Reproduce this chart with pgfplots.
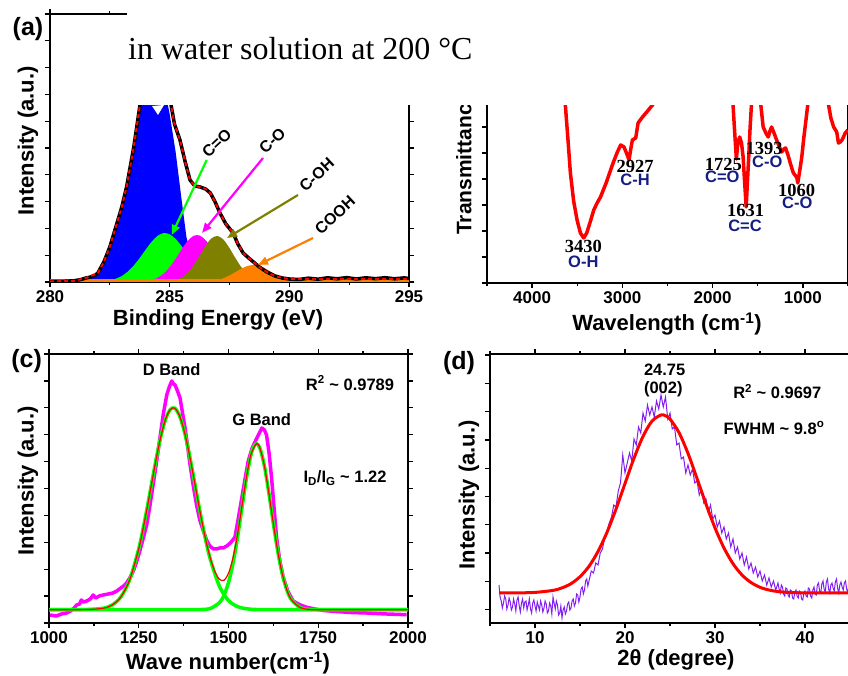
\documentclass[border=0pt]{standalone}
\usepackage{fontspec}
\setmainfont{Liberation Sans}
\newfontfamily\tnr{Liberation Serif}
\usepackage{pgfplots}
\pgfplotsset{compat=1.18}
\usetikzlibrary{arrows.meta}
\newcommand\fs[1]{\fontsize{#1}{#1}\selectfont}
\definecolor{olv}{RGB}{128,128,0}
\definecolor{org}{RGB}{255,128,0}
\definecolor{nvy}{RGB}{20,30,130}
\definecolor{vio}{RGB}{130,30,240}
\definecolor{grn}{RGB}{0,255,0}
\definecolor{mag}{RGB}{255,0,255}
\pgfplotsset{
  panel/.style={
    scale only axis, anchor=south west,
    axis line style={line width=2pt},
    tick align=outside, major tick length=5pt, minor tick length=3pt,
    every tick/.style={black, line width=1.3pt},
    yticklabels={},
    xticklabel style={font=\fs{17}\bfseries},
    /pgf/number format/assume math mode=true,
    /pgf/number format/1000 sep={},
  },
}
\begin{document}
\begin{tikzpicture}[x=1pt,y=1pt]

% ---------- (a) XPS C1s ----------
\begin{axis}[panel, at={(50pt,394pt)}, width=359pt, height=268pt,
    xmin=280, xmax=295, ymin=0, ymax=268,
    xtick={280,285,290,295}, minor xtick={282.5,287.5,292.5},
    ytick={0,26.8,...,268}]
  % C-C (blue)
  \addplot[fill=blue, draw=none] coordinates {
    (280,0) (281.0,1) (281.5,3) (281.8,5) (282.0,8.5) (282.25,19) (282.5,34) (282.75,54)
    (283.0,74) (283.2,94) (283.5,134) (283.76,176) (284.0,209) (284.3,240) (284.5,245)
    (284.7,225) (284.9,180) (285.0,168) (285.25,130) (285.5,82) (285.7,45) (286.0,15)
    (286.3,4) (286.6,1) (287,0)} \closedcycle;
  % C=O (green)
  \addplot[fill=grn, draw=none, smooth] coordinates {
    (282.0,0.3) (282.5,1.6) (282.75,3.3) (283.0,6.0) (283.25,10.4) (283.5,16.5) (283.75,24.0)
    (284.0,32.4) (284.25,40.3) (284.5,46.2) (284.75,48.9) (285.0,47.7) (285.25,43.0)
    (285.5,35.7) (285.75,27.4) (286.0,19.3) (286.25,12.6) (286.5,7.6) (286.75,4.2)
    (287.0,2.2) (287.5,0.4) (288,0)} \closedcycle;
  % C-O (magenta)
  \addplot[fill=mag, draw=none, smooth] coordinates {
    (283.5,0.1) (284.0,0.8) (284.25,2.0) (284.5,4.3) (284.75,8.4) (285.0,14.8) (285.25,23.2)
    (285.5,32.7) (285.75,41.0) (286.0,46.2) (286.25,46.5) (286.5,41.9) (286.75,33.8)
    (287.0,24.4) (287.25,15.7) (287.5,9.1) (287.75,4.7) (288.0,2.2) (288.25,0.9)
    (288.5,0.3) (289,0)} \closedcycle;
  % C-OH (olive)
  \addplot[fill=olv, draw=none, smooth] coordinates {
    (284.5,0.1) (285.0,0.7) (285.25,1.9) (285.5,4.4) (285.75,9.2) (286.0,16.6) (286.25,26.3)
    (286.5,36.2) (286.75,43.7) (287.0,46.0) (287.25,42.3) (287.5,33.9) (287.75,23.8)
    (288.0,14.6) (288.25,7.8) (288.5,3.7) (288.75,1.5) (289.0,0.5) (289.5,0)} \closedcycle;
  % COOH (orange)
  \addplot[fill=org, draw=none, smooth] coordinates {
    (286.0,0.1) (286.5,0.4) (286.75,0.9) (287.0,1.9) (287.25,3.8) (287.5,6.5) (287.75,9.9)
    (288.0,13.4) (288.25,16.0) (288.5,17.0) (288.75,16.0) (289.0,13.4) (289.25,9.9)
    (289.5,6.5) (289.75,3.8) (290.0,1.9) (290.25,0.9) (290.5,0.4) (291,0)} \closedcycle;
  \addplot[org, line width=3pt] coordinates {(280,1.5) (295,1.5)};
  % measured envelope
  \addplot[black, line width=3.5pt, line join=round] coordinates {
    (280.0,0.5) (280.5,0.6) (281.0,1.2) (281.3,2.5) (281.5,4) (281.7,5) (281.9,7) (282.0,9)
    (282.25,20) (282.5,35) (282.75,55) (283.0,75) (283.2,95) (283.5,135) (283.76,177)
    (284.0,212) (284.3,245) (284.6,250) (284.85,215) (285.05,178) (285.2,158) (285.43,142)
    (285.65,120) (285.85,102) (286.05,96) (286.27,95) (286.5,93) (286.7,89) (286.9,80)
    (287.1,69) (287.35,58) (287.65,49) (287.85,38) (288.07,29) (288.3,24) (288.5,20)
    (288.75,15) (289.06,10) (289.4,6) (289.7,4) (290.0,3) (290.4,2.5) (290.8,3.8)
    (291.2,2.8) (291.6,4.2) (292.0,3.2) (292.4,4.4) (292.8,3) (293.2,4.2) (293.6,3.3)
    (294.0,4.3) (294.4,3.2) (294.8,4.1) (295,3.5)};
  % fitted envelope
  \addplot[red, line width=2pt, dash pattern=on 4pt off 3pt] coordinates {
    (280.0,0.5) (281.0,1.2) (281.5,4) (282.0,9) (282.25,20) (282.5,35) (282.75,55)
    (283.0,75) (283.2,95) (283.5,135) (283.76,177) (284.0,212) (284.3,245) (284.6,250)
    (284.85,215) (285.05,178) (285.2,158) (285.43,142) (285.65,120) (285.85,102)
    (286.05,96) (286.27,95) (286.5,93) (286.7,89) (286.9,80) (287.1,69) (287.35,58)
    (287.65,49) (287.85,38) (288.07,29) (288.3,24) (288.5,20) (288.75,15) (289.06,10)
    (289.4,6) (289.7,4) (290.0,3) (295,3)};
\end{axis}
\fill[white] (152,570) -- (158,561) -- (164,571) -- cycle;
\draw[grn, line width=2.2pt, -{Triangle[length=10pt,width=8pt]}] (206.7,516) -- (171.7,441);
\draw[mag, line width=2.2pt, -{Triangle[length=10pt,width=8pt]}] (263,518) -- (202,443);
\draw[olv, line width=2.2pt, -{Triangle[length=10pt,width=8pt]}] (298,481) -- (227,438);
\draw[org, line width=2.2pt, -{Triangle[length=10pt,width=8pt]}] (313,438) -- (258,411);
\begin{scope}[every node/.style={rotate=43, font=\fs{16}\bfseries, inner sep=0pt}]
  \node at (216.7,532.7) {C=O};
  \node at (272.3,535.3) {C-O};
  \node at (316.7,501) {C-OH};
  \node at (335,461) {COOH};
\end{scope}

% ---------- (b) FTIR ----------
\begin{axis}[panel, at={(487pt,393pt)}, width=361pt, height=269pt,
    x dir=reverse, xmin=500, xmax=4500, ymin=0, ymax=269,
    xtick={1000,2000,3000,4000}, minor xtick={500,1500,2500,3500,4500},
    ytick={0,26,...,260}]
  \addplot[red, line width=3.5pt, line join=round] coordinates {
    (3660,215) (3632,178) (3600,140) (3576,110) (3540,82) (3502,63) (3465,50) (3428,45)
    (3395,50) (3360,60) (3317,73) (3280,80) (3242,86) (3180,100) (3111,118) (3060,130)
    (3019,138) (2982,136) (2955,130) (2926,123) (2905,135) (2889,143) (2852,145)
    (2826,160) (2777,166) (2720,172) (2666,178) (2620,200) (1800,200) (1774,178)
    (1755,150) (1737,124) (1720,140) (1700,146) (1680,140) (1662,126) (1645,100)
    (1628,76) (1615,100) (1600,126) (1585,155) (1570,178) (1555,200) (1480,200)
    (1466,178) (1440,156) (1410,150) (1384,146) (1365,152) (1347,156) (1320,150)
    (1291,143) (1260,136) (1235,131) (1210,134) (1191,135) (1165,128) (1143,121)
    (1120,114) (1105,110) (1080,107) (1068,106) (1057,100) (1035,112) (1012,126)
    (990,145) (975,156) (946,178) (930,200) (730,200) (715,178) (690,165) (659,156)
    (625,151) (606,140) (585,141) (566,143) (530,150) (502,153)};
\end{axis}
\begin{scope}[every node/.style={inner sep=0pt}]
  \node[font=\tnr\fs{18.5}\bfseries] at (583.3,429.3) {3430};
  \node[font=\fs{16.5}\bfseries, text=nvy] at (583.3,414.3) {O-H};
  \node[font=\tnr\fs{18.5}\bfseries] at (635,510) {2927};
  \node[font=\fs{16.5}\bfseries, text=nvy] at (635,496) {C-H};
  \node[font=\tnr\fs{18.5}\bfseries] at (723.3,512) {1725};
  \node[font=\fs{16.5}\bfseries, text=nvy] at (722.3,499.3) {C=O};
  \node[font=\tnr\fs{18.5}\bfseries] at (764,527.7) {1393};
  \node[font=\fs{16.5}\bfseries, text=nvy] at (767.3,514.3) {C-O};
  \node[font=\tnr\fs{18.5}\bfseries] at (745.7,465.3) {1631};
  \node[font=\fs{16.5}\bfseries, text=nvy] at (745,450) {C=C};
  \node[font=\tnr\fs{18.5}\bfseries] at (796.7,485.3) {1060};
  \node[font=\fs{16.5}\bfseries, text=nvy] at (797.3,472.7) {C-O};
\end{scope}

% ---------- (c) Raman ----------
\begin{axis}[panel, at={(49pt,53pt)}, width=359pt, height=269pt,
    xmin=1000, xmax=2000, ymin=0, ymax=269,
    xtick={1000,1250,1500,1750,2000}, minor xtick={1125,1375,1625,1875},
    ytick={0,26.9,...,269}]
  \addplot[mag, line width=3.5pt, line join=round] coordinates {
    (1003,8) (1020,7) (1035,9) (1049,10) (1060,12) (1070,15) (1077,18) (1085,19) (1090,23)
    (1096,21) (1105,22) (1115,24) (1123,28) (1130,25) (1140,27) (1151,28) (1165,29)
    (1178,30) (1189,32) (1200,35) (1208,37) (1216,40) (1225,45) (1235,52) (1244,61)
    (1253,72) (1262,84) (1272,98) (1281,117) (1290,138) (1300,162) (1309,185) (1318,208)
    (1328,228) (1335,236) (1342,242) (1347,239) (1351,238) (1358,232) (1365,225)
    (1372,210) (1379,195) (1386,177) (1393,158) (1402,137) (1411,118) (1420,103)
    (1430,92) (1439,83) (1448,77) (1458,74) (1467,74) (1475,75) (1485,75) (1495,77)
    (1505,80) (1512,83) (1518,86) (1527,104) (1537,125) (1546,144) (1555,162) (1566,175)
    (1579,185) (1586,190) (1593,195) (1600,193) (1606,188) (1613,170) (1620,145)
    (1627,115) (1634,85) (1643,62) (1653,45) (1665,32) (1680,22) (1700,18) (1718,15.7)
    (1740,14) (1765,12.5) (1792,11.7) (1840,10.5) (1885,10) (1940,9) (1996,8.3)};
  \addplot[grn, line width=3.5pt, smooth] coordinates {
    (1000,13.3) (1100,13.4) (1150,14.7) (1175,17.8) (1200,25.9) (1225,43.4) (1250,74.2)
    (1262.5,94.9) (1275,118.1) (1287.5,142.7) (1300,166.7) (1312.5,187.9) (1325,204.0)
    (1337.5,213.4) (1350,214.9) (1362.5,208.2) (1375,194.4) (1387.5,174.8) (1400,151.5)
    (1412.5,127.0) (1425,103.0) (1437.5,81.3) (1450,62.8) (1475,36.5) (1500,22.5)
    (1525,16.4) (1550,14.2) (1575,13.5) (1600,13.3) (2000,13.3)};
  \addplot[grn, line width=3.5pt, smooth] coordinates {
    (1000,13.3) (1400,13.3) (1425,13.5) (1450,14.6) (1475,20.4) (1487.5,27.8) (1500,40.5)
    (1512.5,59.6) (1525,85.3) (1537.5,115.2) (1550,144.8) (1562.5,167.9) (1570,176.1)
    (1578,179.3) (1587.5,174.9) (1600,157.1) (1612.5,129.8) (1625,99.3) (1637.5,71.2)
    (1650,48.8) (1662.5,33.1) (1675,23.4) (1700,15.3) (1725,13.6) (1750,13.3) (2000,13.3)};
  \addplot[red, line width=1.2pt, smooth] coordinates {
    (1000,13.3) (1100,13.4) (1150,14.7) (1175,17.8) (1200,25.9) (1225,43.4) (1250,74.2)
    (1262.5,94.9) (1275,118.1) (1287.5,142.7) (1300,166.7) (1312.5,187.9) (1325,204.0)
    (1337.5,213.4) (1350,214.9) (1362.5,208.2) (1375,194.4) (1387.5,174.8) (1400,151.5)
    (1412.5,127.0) (1425,103.2) (1437.5,81.8) (1450,64.1) (1462.5,51.0) (1475,43.6)
    (1487.5,42.8) (1500,49.7) (1512.5,65.1) (1525,88.4) (1537.5,116.9) (1550,145.7)
    (1562.5,168.3) (1578,179.4) (1587.5,174.9) (1600,157.1) (1612.5,129.8) (1625,99.3)
    (1637.5,71.2) (1650,48.8) (1662.5,33.1) (1675,23.4) (1700,15.3) (1725,13.6)
    (1750,13.3) (2000,13.3)};
\end{axis}
\begin{scope}[every node/.style={inner sep=0pt, font=\fs{16.5}\bfseries}]
  \node at (171.7,306.3) {D Band};
  \node at (261.7,256.3) {G Band};
  \node at (350,293) {R\textsuperscript{2} \textasciitilde\ 0.9789};
  \node at (345,198) {I\textsubscript{D}/I\textsubscript{G} \textasciitilde\ 1.22};
\end{scope}

% ---------- (d) XRD ----------
\begin{axis}[panel, at={(490pt,53pt)}, width=360pt, height=269pt,
    xmin=5, xmax=45, ymin=0, ymax=269,
    xtick={10,20,30,40}, minor xtick={5,15,25,35,45},
    ytick={13.3,41.6,69.9,98.2,126.5,154.8,183.1,211.4,239.7,268}]
  \addplot[vio, line width=1pt] coordinates {
    (6.00,38) (6.12,26) (6.25,22) (6.37,15) (6.50,20) (6.62,27) (6.75,24) (6.87,14)
    (7.00,18) (7.12,25) (7.25,21) (7.37,13) (7.50,16) (7.62,24) (7.75,19) (7.87,12)
    (8.00,23) (8.12,26) (8.25,17) (8.37,11) (8.50,20) (8.62,24) (8.75,15) (8.87,21)
    (9.00,22) (9.12,13) (9.25,18) (9.37,24) (9.50,14) (9.62,10) (9.75,20) (9.87,23)
    (10.00,17) (10.12,12) (10.25,21) (10.37,17) (10.50,13) (10.62,22) (10.75,18) (10.87,11)
    (11.00,15) (11.12,22) (11.25,19) (11.37,10) (11.50,12) (11.62,20) (11.75,17) (11.87,9)
    (12.00,26) (12.12,20) (12.25,14) (12.37,22) (12.50,18) (12.62,8) (12.75,10) (12.87,17)
    (13.00,5) (13.12,13) (13.25,16) (13.37,9) (13.50,12) (13.62,19) (13.75,21) (13.87,13)
    (14.00,15) (14.12,22) (14.25,24) (14.37,17) (14.50,20) (14.62,29) (14.75,28) (14.87,21)
    (15.00,26) (15.12,34) (15.25,36) (15.37,29) (15.50,33) (15.62,42) (15.75,44) (15.87,37)
    (16.00,42) (16.25,52) (16.50,50) (16.75,60) (17.00,58) (17.25,70) (17.50,74) (17.75,86)
    (18.00,92) (18.25,100) (18.50,106) (18.75,118) (19.00,116) (19.25,132) (19.50,140)
    (19.75,168) (20.00,150) (20.25,160) (20.50,170) (20.75,162) (21.00,184) (21.25,178)
    (21.50,196) (21.75,190) (22.00,210) (22.25,202) (22.50,218) (22.75,208) (23.00,216)
    (23.25,206) (23.50,222) (23.75,214) (24.00,228) (24.25,216) (24.50,226) (24.75,204)
    (25.00,210) (25.25,194) (25.50,196) (25.75,178) (26.00,180) (26.25,164) (26.50,166)
    (26.75,150) (27.00,158) (27.25,148) (27.50,154) (27.75,140) (28.00,142) (28.25,128)
    (28.50,134) (28.75,120) (29.00,124) (29.25,110) (29.50,118) (29.75,104) (30.00,108)
    (30.25,96) (30.50,102) (30.75,90) (31.00,96) (31.25,84) (31.50,90) (31.75,76)
    (32.00,84) (32.25,70) (32.50,76) (32.75,64) (33.00,70) (33.25,58) (33.50,66)
    (33.75,54) (34.00,60) (34.25,50) (34.50,56) (34.75,46) (35.00,52) (35.25,42)
    (35.50,48) (35.75,38) (36.00,45) (36.25,36) (36.50,42) (36.75,33) (37.00,40)
    (37.12,34) (37.25,30) (37.37,38) (37.50,36) (37.62,29) (37.75,27) (37.87,35)
    (38.00,34) (38.12,28) (38.25,26) (38.37,33) (38.50,32) (38.62,25) (38.75,24) (38.87,31)
    (39.00,33) (39.12,27) (39.25,25) (39.37,32) (39.50,31) (39.62,24) (39.75,23) (39.87,30)
    (40.00,32) (40.12,27) (40.25,26) (40.37,35) (40.50,34) (40.62,27) (40.75,25) (40.87,33)
    (41.00,36) (41.12,29) (41.25,28) (41.37,38) (41.50,40) (41.62,32) (41.75,30) (41.87,39)
    (42.00,42) (42.12,34) (42.25,31) (42.37,41) (42.50,44) (42.62,34) (42.75,30) (42.87,38)
    (43.00,40) (43.12,35) (43.25,32) (43.37,41) (43.50,44) (43.62,35) (43.75,30) (43.87,38)
    (44.00,41) (44.12,36) (44.25,33) (44.37,40) (44.50,42) (44.62,34) (44.75,31) (44.87,37)
    (45.00,38)};
  \addplot[red, line width=3pt, smooth] coordinates {
    (6,30) (8,30.1) (10,30.6) (12,32.6) (13,35.1) (14,39.3) (15,46.3) (16,56.7) (17,71.5)
    (18,90.7) (19,113.9) (20,139.5) (21,164.8) (22,186.6) (23,201.9) (24,208) (24.5,207.2)
    (25,203.9) (26,190.4) (27,169.6) (28,144.6) (29,118.9) (30,95.1) (31,75.0) (32,59.3)
    (33,48.0) (34,40.5) (35,35.7) (36,33.0) (37,31.4) (38,30.7) (40,30.1) (45,30)};
\end{axis}
\begin{scope}[every node/.style={inner sep=0pt, font=\fs{16.5}\bfseries}]
  \node at (664.7,306.3) {24.75};
  \node at (663.3,286.3) {(002)};
  \node at (777.3,284.7) {R\textsuperscript{2} \textasciitilde\ 0.9697};
  \node at (774,248) {FWHM \textasciitilde\ 9.8\textsuperscript{o}};
\end{scope}

% ---------- labels ----------
\begin{scope}[every node/.style={inner sep=0pt, font=\fs{22}\bfseries}]
  \node[font=\fs{25}\bfseries] at (28,647) {(a)};
  \node[font=\fs{25}\bfseries] at (26.7,314.7) {(c)};
  \node[font=\fs{25}\bfseries] at (459,313) {(d)};
  \node[rotate=90] at (28,535) {Intensity (a.u.)};
  \node at (218,356) {Binding Energy (eV)};
  \node[rotate=90, anchor=west, font=\fs{21}\bfseries] at (466,441) {Transmittance (a.u.)};
  \node at (667,352) {Wavelength (cm\textsuperscript{-1})};
  \node[rotate=90] at (28,195) {Intensity (a.u.)};
  \node at (228,13) {Wave number(cm\textsuperscript{-1})};
  \node[rotate=90] at (469,181) {Intensity (a.u.)};
  \node at (676,16) {2θ (degree)};
\end{scope}

% ---------- cover box and title ----------
\fill[white] (127,571) rectangle (860,690);
\node[font=\tnr\fs{32}, anchor=base west, inner sep=0pt] at (128,616) {in water solution at 200 °C};

\pgfresetboundingbox
\useasboundingbox (0,0) rectangle (848,676);
\end{tikzpicture}
\end{document}
